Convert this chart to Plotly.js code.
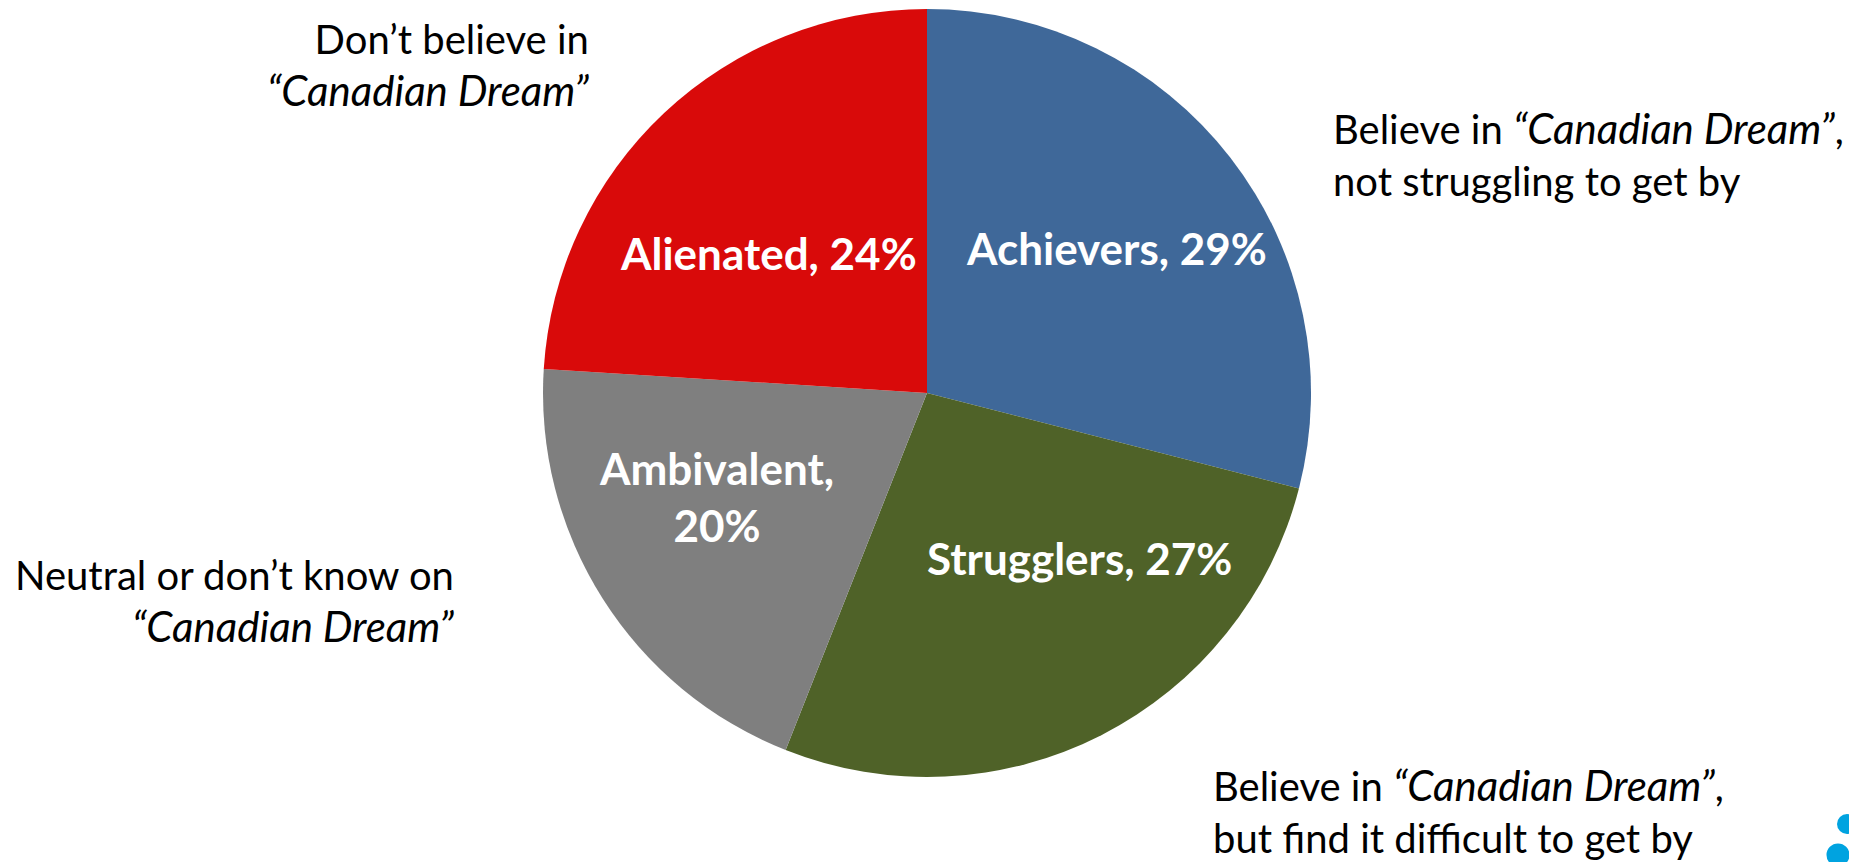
<!DOCTYPE html>
<html>
<head>
<meta charset="utf-8">
<script src="https://cdn.plot.ly/plotly-3.0.1.min.js"></script>
<style>
  html, body { margin: 0; padding: 0; background: #ffffff; }
  #chart { width: 1849px; height: 862px; }
</style>
</head>
<body>
<div id="chart"></div>
<script>
// ---- data ----
const segments = ["Achievers", "Strugglers", "Ambivalent", "Alienated"];
const shares = [29, 27, 20, 24];
const sliceColors = ["#3F6899", "#4F6228", "#7F7F7F", "#D90A0A"];
const dreamText = "“Canadian Dream”";
const descLine1 = ["Believe in ", "Believe in ", "Neutral or don’t know on", "Don’t believe in"];
const descLine2 = ["not struggling to get by", "but find it difficult to get by", "", ""];

// ---- layout helpers (pixel -> paper) ----
const W = 1849, H = 862;
const px = x => x / W;
const py = y => 1 - y / H;

const FONT = "Lato, 'Open Sans', sans-serif";
const ital = t => '<i><span style="font-size:42px">' + t + '</span></i>';

const descriptions = [
  descLine1[0] + ital(dreamText) + ",<br>" + descLine2[0],
  descLine1[1] + ital(dreamText) + ",<br>" + descLine2[1],
  descLine1[2] + "<br>" + ital(dreamText),
  descLine1[3] + "<br>" + ital(dreamText)
];

// inner label placement (pixel centres) and line breaks
const innerPos = [[1116, 248], [1079, 558], [716, 497], [768, 253]];
const innerSep = [", ", ", ", ",<br>", ", "];

// outer description placement
const outerPos = [
  {x: 1331, y: 154, xanchor: "left", align: "left"},
  {x: 1211, y: 811, xanchor: "left", align: "left"},
  {x: 456, y: 601, xanchor: "right", align: "right"},
  {x: 591, y: 65, xanchor: "right", align: "right"}
];

const annotations = [];
segments.forEach((s, i) => {
  annotations.push({
    xref: "paper", yref: "paper",
    x: px(innerPos[i][0]), y: py(innerPos[i][1]),
    xanchor: "center", yanchor: "middle", align: "center",
    text: "<b>" + s + innerSep[i] + shares[i] + "%</b>",
    showarrow: false,
    font: {family: FONT, size: 44, color: "#ffffff"}
  });
  const o = outerPos[i];
  annotations.push({
    xref: "paper", yref: "paper",
    x: px(o.x), y: py(o.y),
    xanchor: o.xanchor, yanchor: "middle", align: o.align,
    text: descriptions[i],
    showarrow: false,
    font: {family: FONT, size: 40, color: "#000000"}
  });
});

const dotColor = "#00A3E0";
const dots = [[1847, 824, 10], [1838, 855, 11.5]];
const shapes = dots.map(d => ({
  type: "circle", xref: "paper", yref: "paper",
  x0: px(d[0] - d[2]), x1: px(d[0] + d[2]),
  y0: py(d[1] + d[2]), y1: py(d[1] - d[2]),
  fillcolor: dotColor, line: {width: 0}
}));

const trace = {
  type: "pie",
  labels: segments,
  values: shares,
  sort: false,
  direction: "clockwise",
  rotation: 0,
  marker: {colors: sliceColors, line: {width: 0}},
  textinfo: "none",
  hoverinfo: "label+percent",
  showlegend: false,
  domain: {x: [px(543), px(1311)], y: [py(777), py(9)]}
};

const layout = {
  width: W, height: H,
  margin: {l: 0, r: 0, t: 0, b: 0},
  paper_bgcolor: "#ffffff",
  plot_bgcolor: "#ffffff",
  showlegend: false,
  annotations: annotations,
  shapes: shapes
};

Plotly.newPlot("chart", [trace], layout, {displayModeBar: false, staticPlot: true});
</script>
</body>
</html>
